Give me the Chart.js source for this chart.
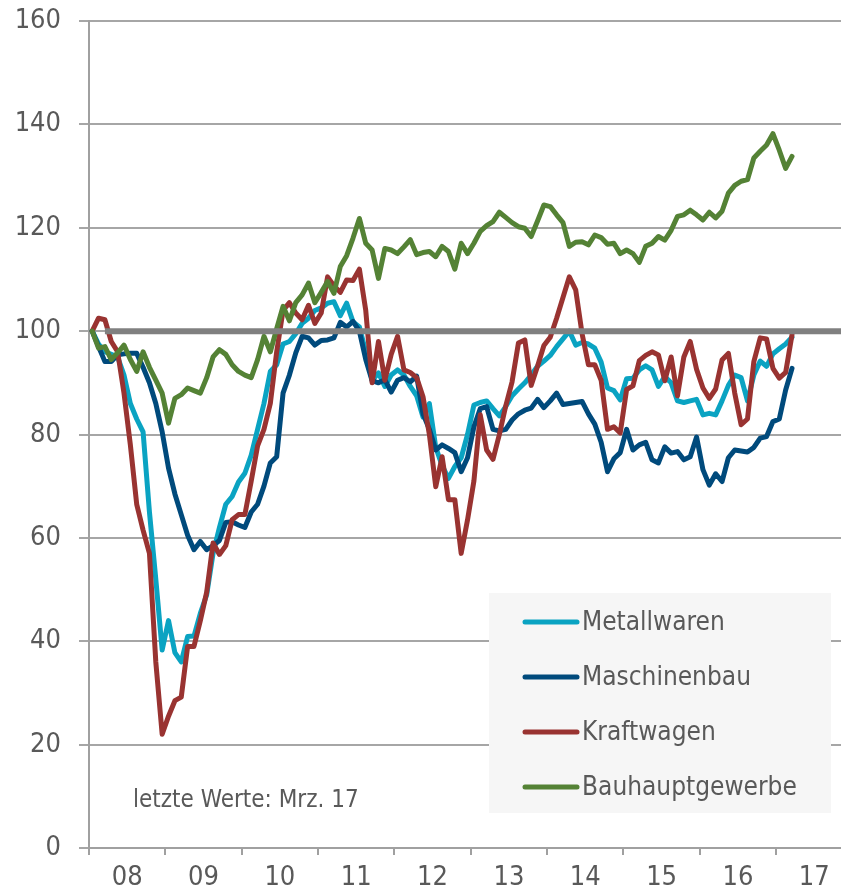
<!DOCTYPE html>
<html lang="de">
<head>
<meta charset="UTF-8">
<title>Produktion nach Branchen</title>
<script src="https://cdn.jsdelivr.net/npm/chart.js@4"></script>
<style>
  html, body { margin: 0; padding: 0; background: #fff; }
</style>
</head>
<body>
<canvas id="chart" width="841" height="890"></canvas>
<script>
// Jahreslabels (Jan 08 .. Mrz 17, monatlich)
const yearLabels = ['08', '09', '10', '11', '12', '13', '14', '15', '16', '17'];
const seriesNames = ['Metallwaren', 'Maschinenbau', 'Kraftwagen', 'Bauhauptgewerbe'];
const seriesColors = ['#0aa3c2', '#004a7c', '#993331', '#548235'];

const metallwaren = [
  100, 97.5, 96, 95.5, 95, 91.5, 86, 83, 80.5, 65, 52, 38.3,
  44, 37.8, 36, 40.9, 41, 45.4, 49, 57, 62, 66.5, 68, 70.8,
  72.5, 76, 81, 86, 92.2, 93.5, 97.5, 98, 99.5, 101.5, 102.5, 104,
  104.5, 105.4, 105.7, 103, 105.4, 101.8, 100.8, 96, 90.5, 91.9, 89.3, 91.5,
  92.5, 91.5, 89.3, 87.5, 83.4, 86, 77.5, 74, 71.5, 73.8, 75.5, 80,
  85.7, 86.2, 86.5, 85, 83.6, 85.4, 87.5, 88.8, 90, 91.5, 93.2, 94.2,
  95.3, 97, 98.5, 100, 97.3, 97.8, 97.5, 96.7, 94, 89, 88.5, 86.7,
  90.8, 90.9, 92.5, 93.3, 92.5, 89.3, 91.2, 90, 86.5, 86.2, 86.5, 86.8,
  83.8, 84.1, 83.8, 86.5, 89.5, 91.5, 91, 86.5, 91.5, 94.2, 93.2, 95.6,
  96.6, 97.5, 98.8
];
const maschinenbau = [
  100, 97, 94.1, 94.1, 95.4, 95.6, 95.7, 95.7, 93, 90, 86, 80.5,
  73.5, 68.5, 64.5, 60.5, 57.7, 59.3, 57.7, 58.5, 59.5, 63, 63.1, 62.5,
  62, 65, 66.5, 70, 74.5, 75.7, 88, 91.5, 95.8, 99, 98.7, 97.3,
  98.2, 98.3, 98.7, 101.7, 100.8, 101.9, 100, 94.5, 90.4, 90, 90.6, 88.2,
  90.5, 91, 90.2, 91.3, 84, 81, 77, 78, 77.3, 76.5, 72.8, 75.5,
  81.5, 85, 85.4, 81, 80.7, 81, 82.8, 84, 84.7, 85.1, 86.8, 85.2,
  86.5, 88, 85.8, 86, 86.2, 86.4, 84, 82, 78.5, 72.8, 75.3, 76.5,
  81, 77, 78, 78.5, 75.1, 74.5, 77.6, 76.4, 76.7, 75.1, 75.7, 79.5,
  73.2, 70.2, 72.4, 70.9, 75.5, 77, 76.8, 76.6, 77.5, 79.3, 79.6, 82.5,
  83, 88.6, 92.8
];
const kraftwagen = [
  100, 102.5, 102.2, 98, 96, 88, 78, 66.5, 61.5, 57, 36, 22,
  25.5, 28.5, 29.2, 39, 39, 44, 49.5, 59, 56.8, 58.5, 63.5, 64.5,
  64.5, 71, 77.8, 81, 86, 96, 104, 105.5, 103.5, 102.2, 105, 101.5,
  103.5, 110.5, 108.8, 107.5, 109.9, 109.8, 112, 104, 90, 98, 90.5, 95.5,
  99, 92.5, 92, 91, 87.3, 80, 69.9, 75.7, 67.4, 67.4, 57, 63.5,
  71, 83.8, 77, 75.2, 80, 85.5, 90.2, 97.7, 98.3, 89.5, 93.2, 97.2,
  98.8, 102.5, 106.5, 110.5, 108, 99.5, 93.5, 93.5, 90.5, 81, 81.5, 80.3,
  88.7, 89.4, 94.3, 95.3, 96, 95.4, 90.4, 95, 87.5, 95, 98, 92.6,
  89, 87, 88.8, 94.4, 95.7, 88, 81.9, 83, 94.1, 98.7, 98.5, 92.8,
  90.9, 92, 99.3
];
const bauhauptgewerbe = [
  100, 96.7, 97, 94.5, 95.8, 97.3, 94.5, 92.2, 96, 93, 90.5, 88,
  82.2, 87, 87.7, 89, 88.5, 88, 91, 95, 96.4, 95.5, 93.5, 92.2,
  91.5, 91, 94.5, 99, 96, 100.5, 104.8, 102, 105.5, 107, 109.3, 105.5,
  107.5, 109.6, 107.3, 112.5, 114.6, 118, 121.8, 117, 115.7, 110.2, 116, 115.7,
  115, 116.3, 117.7, 114.8, 115.2, 115.4, 114.4, 116.4, 115.4, 112, 117, 115,
  117, 119.3, 120.4, 121.2, 123, 122, 121, 120.2, 119.9, 118.3, 121.3, 124.4,
  124.1, 122.5, 121, 116.4, 117.2, 117.3, 116.7, 118.6, 118.1, 116.8, 117, 115,
  115.7, 115, 113.3, 116.4, 117, 118.3, 117.6, 119.5, 122.2, 122.5, 123.4, 122.5,
  121.5, 123, 121.9, 123.2, 126.7, 128.2, 129, 129.3, 133.5, 134.8, 136, 138.2,
  135, 131.5, 133.8
];
// Referenzlinie bei 100
const refX = [2, 117.7];
const refY = [100, 100];

const monthIndex = metallwaren.map((_, i) => i);
const FONT = '"DejaVu Sans Condensed", "Liberation Sans Narrow", sans-serif';
const TEXT = '#595959';

const legendBox = {
  id: 'legendBox',
  afterDatasetsDraw(chart) {
    const ctx = chart.ctx;
    ctx.save();
    ctx.fillStyle = '#f6f6f6';
    ctx.fillRect(489, 593, 342, 220);
    const rows = [622, 677, 732, 787];
    ctx.font = '26px ' + FONT;
    ctx.textBaseline = 'middle';
    ctx.lineCap = 'round';
    seriesNames.forEach((name, k) => {
      ctx.strokeStyle = seriesColors[k];
      ctx.lineWidth = 5;
      ctx.beginPath();
      ctx.moveTo(525, rows[k]);
      ctx.lineTo(577, rows[k]);
      ctx.stroke();
      ctx.fillStyle = TEXT;
      ctx.fillText(name, 582, rows[k] + 1);
    });
    ctx.font = '24px ' + FONT;
    ctx.fillText('letzte Werte: Mrz. 17', 133, 801);
    ctx.restore();
  }
};

const lineSet = (k, data, order) => ({
  label: seriesNames[k],
  data: data,
  borderColor: seriesColors[k],
  borderWidth: 5,
  pointRadius: 0,
  tension: 0,
  borderJoinStyle: 'round',
  borderCapStyle: 'round',
  order: order
});

new Chart(document.getElementById('chart'), {
  type: 'line',
  data: {
    labels: monthIndex,
    datasets: [
      {
        label: 'Referenz',
        data: refX.map((x, i) => ({ x: x, y: refY[i] })),
        borderColor: '#808080',
        borderWidth: 6,
        pointRadius: 0,
        order: 0
      },
      lineSet(0, metallwaren, 4),
      lineSet(1, maschinenbau, 3),
      lineSet(2, kraftwagen, 2),
      lineSet(3, bauhauptgewerbe, 1)
    ]
  },
  options: {
    responsive: false,
    animation: false,
    layout: { padding: { top: 21, right: 0, left: 0, bottom: 0 } },
    plugins: {
      legend: { display: false },
      tooltip: { enabled: false }
    },
    scales: {
      x: {
        type: 'linear',
        min: -0.5,
        max: 117.7,
        afterBuildTicks: (scale) => {
          const t = [];
          yearLabels.forEach((_, k) => {
            t.push({ value: 12 * k - 0.5 });
            t.push({ value: 12 * k + 5.5 });
          });
          scale.ticks = t;
        },
        afterFit: (scale) => { scale.height = 42; },
        border: { color: '#a0a0a0', width: 2 },
        grid: {
          drawOnChartArea: false,
          drawTicks: true,
          tickLength: 7,
          lineWidth: 2,
          tickColor: (c) => ((c.tick && Math.abs((c.tick.value + 0.5) % 12) < 0.01) ? '#a0a0a0' : 'rgba(0,0,0,0)')
        },
        ticks: {
          autoSkip: false,
          maxRotation: 0,
          padding: 7,
          color: TEXT,
          font: { family: FONT, size: 27 },
          callback: (v) => {
            const k = Math.round((v - 5.5) / 12);
            return Math.abs(v - (12 * k + 5.5)) < 0.01 ? yearLabels[k] : '';
          }
        }
      },
      y: {
        min: 0,
        max: 160,
        afterFit: (scale) => {
          scale.width = 89;
          scale.paddingTop = 0;
          scale.paddingBottom = 0;
        },
        border: { color: '#a0a0a0', width: 2 },
        grid: { color: '#a6a6a6', lineWidth: 2, tickLength: 10 },
        ticks: {
          stepSize: 20,
          padding: 18,
          color: TEXT,
          font: { family: FONT, size: 27 }
        }
      }
    }
  },
  plugins: [legendBox]
});
</script>
</body>
</html>
